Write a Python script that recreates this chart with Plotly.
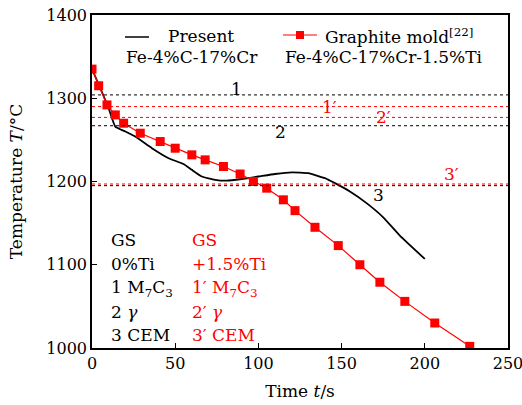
import plotly.graph_objects as go

# Present: Fe-4%C-17%Cr
present_t = [0, 5, 10, 14, 20, 26, 36, 46, 55, 60, 66, 74, 81, 90, 100, 110, 120, 130, 140, 146, 155, 165, 175, 185, 200]
present_T = [1335, 1312, 1288, 1266, 1260, 1254, 1240, 1228, 1221, 1214, 1206, 1202, 1201, 1203, 1206, 1209, 1211, 1210, 1204, 1198, 1188, 1174, 1157, 1135, 1107]

# Graphite mold [22]: Fe-4%C-17%Cr-1.5%Ti
graphite_t = [0, 4, 9, 14, 19, 29, 41, 50, 60, 68, 79, 89, 97, 105, 115, 122, 134, 148, 161, 173, 188, 206, 227]
graphite_T = [1335, 1315, 1292, 1280, 1270, 1258, 1248, 1240, 1232, 1226, 1218, 1209, 1200, 1192, 1178, 1165, 1145, 1123, 1100, 1079, 1056, 1030, 1002]

# Phase transition temperatures
black_levels = [1304, 1267, 1195]
black_labels = ["1", "2", "3"]
black_label_t = [87, 113, 172]
red_levels = [1290, 1277, 1197]
red_labels = ["1′", "2′", "3′"]
red_label_t = [143, 175, 216]

x_ticks = [0, 50, 100, 150, 200, 250]
y_ticks = [1000, 1100, 1200, 1300, 1400]

FONT = "DejaVu Serif, Liberation Serif, serif"
FS = 17
TFS = 16

fig = go.Figure()

fig.add_trace(go.Scatter(x=present_t, y=present_T, mode="lines",
                         line=dict(color="black", width=1.8, shape="spline", smoothing=0.4),
                         showlegend=False))
fig.add_trace(go.Scatter(x=graphite_t, y=graphite_T, mode="lines+markers",
                         line=dict(color="#ff0000", width=1.2),
                         marker=dict(symbol="square", size=9, color="#ff0000"),
                         showlegend=False))

for lv in black_levels:
    fig.add_shape(type="line", xref="x", yref="y", x0=0, x1=250, y0=lv, y1=lv,
                  line=dict(color="black", width=1, dash="dot"))
for lv in red_levels:
    fig.add_shape(type="line", xref="x", yref="y", x0=0, x1=250, y0=lv, y1=lv,
                  line=dict(color="#ff0000", width=1, dash="dot"))

for lab, t, lv, yshift in zip(black_labels, black_label_t, black_levels, [6, -6, -9]):
    fig.add_annotation(x=t, y=lv, text=lab, showarrow=False, yshift=yshift,
                       font=dict(family=FONT, size=FS, color="black"))
for lab, t, lv, yshift in zip(red_labels, red_label_t, red_levels, [0, 0, 10]):
    fig.add_annotation(x=t, y=lv, text=lab, showarrow=False, yshift=yshift,
                       font=dict(family=FONT, size=FS, color="#ff0000"))

# Legend (manual)
W, H = 522, 405
L, R, T, B = 92, 14, 15, 57
pw, ph = W - L - R, H - T - B
def px(x):
    return (x - L) / pw
def py(y):
    return 1 - (y - T) / ph

fig.add_shape(type="line", xref="paper", yref="paper", x0=px(125), x1=px(149),
              y0=py(37), y1=py(37), line=dict(color="black", width=1.5))
fig.add_annotation(xref="paper", yref="paper", x=px(166), y=py(36), xanchor="left",
                   yanchor="middle", text="Present", showarrow=False,
                   font=dict(family=FONT, size=FS, color="black"))
fig.add_annotation(xref="paper", yref="paper", x=px(124), y=py(57), xanchor="left",
                   yanchor="middle", text="Fe-4%C-17%Cr", showarrow=False,
                   font=dict(family=FONT, size=FS, color="black"))
fig.add_shape(type="line", xref="paper", yref="paper", x0=px(283), x1=px(317),
              y0=py(35), y1=py(35), line=dict(color="#ff0000", width=1.2))
fig.add_shape(type="rect", xref="paper", yref="paper", x0=px(296), x1=px(304),
              y0=py(39), y1=py(31), line=dict(width=0), fillcolor="#ff0000")
fig.add_annotation(xref="paper", yref="paper", x=px(323), y=py(36), xanchor="left",
                   yanchor="middle", text="Graphite mold<sup>[22]</sup>", showarrow=False,
                   font=dict(family=FONT, size=FS, color="black"))
fig.add_annotation(xref="paper", yref="paper", x=px(283), y=py(57), xanchor="left",
                   yanchor="middle", text="Fe-4%C-17%Cr-1.5%Ti", showarrow=False,
                   font=dict(family=FONT, size=FS, color="black"))

# Info block
black_info = ["GS", "0%Ti", "1 M<sub>7</sub>C<sub>3</sub>", "2 <i>γ</i>", "3 CEM"]
red_info = ["GS", "+1.5%Ti", "1′ M<sub>7</sub>C<sub>3</sub>", "2′ <i>γ</i>", "3′ CEM"]
rows_y = [240, 264, 288, 312, 335]
for txt, yy in zip(black_info, rows_y):
    fig.add_annotation(xref="paper", yref="paper", x=px(109), y=py(yy), xanchor="left",
                       yanchor="middle", text=txt, showarrow=False,
                       font=dict(family=FONT, size=FS, color="black"))
for txt, yy in zip(red_info, rows_y):
    fig.add_annotation(xref="paper", yref="paper", x=px(190), y=py(yy), xanchor="left",
                       yanchor="middle", text=txt, showarrow=False,
                       font=dict(family=FONT, size=FS, color="#ff0000"))

axis_common = dict(showline=True, linecolor="black", linewidth=1.5, mirror=True,
                   ticks="inside", ticklen=5, tickwidth=1, tickcolor="black",
                   showgrid=False, zeroline=False, ticklabeloverflow="allow",
                   automargin=False,
                   tickfont=dict(family=FONT, size=TFS, color="black"))
fig.update_xaxes(range=[0, 250], tickvals=x_ticks,
                 title=dict(text="Time <i>t</i>/s", font=dict(family=FONT, size=FS, color="black"),
                            standoff=13),
                 **axis_common)
fig.update_yaxes(range=[1000, 1400], tickvals=y_ticks,
                 title=dict(text="Temperature <i>T</i>/°C", font=dict(family=FONT, size=FS, color="black"),
                            standoff=19),
                 **axis_common)

fig.update_layout(width=W, height=H, margin=dict(l=L, r=R, t=T, b=B),
                  plot_bgcolor="white", paper_bgcolor="white", showlegend=False)

fig.write_html("out.html")
